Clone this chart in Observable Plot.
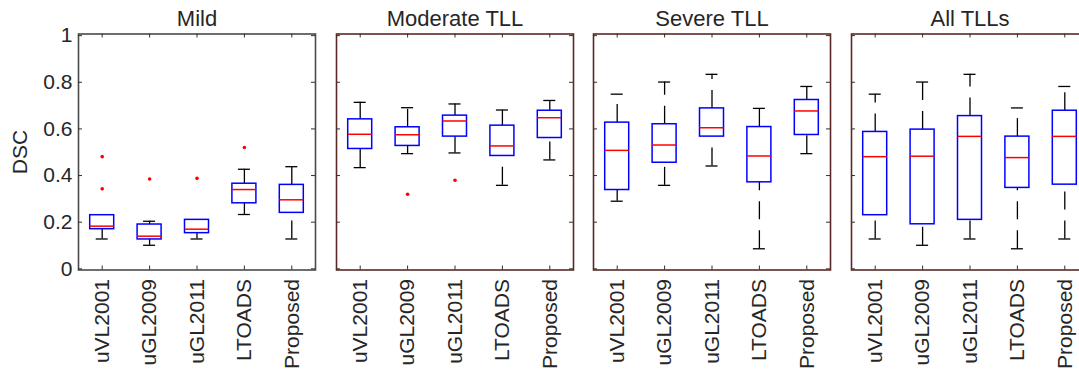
<!DOCTYPE html>
<html>
<head>
<meta charset="utf-8">
<script src="https://cdn.jsdelivr.net/npm/d3@7"></script>
<script src="https://cdn.jsdelivr.net/npm/@observablehq/plot@0.6"></script>
<style>
  html, body { margin: 0; padding: 0; background: #fff; overflow: hidden; }
  #chart { position: relative; width: 1079px; height: 371px; overflow: hidden; }
  #chart svg { position: absolute; top: 0; max-width: none !important; }
</style>
</head>
<body>
<div id="chart"></div>
<script>
const panels = ["Mild", "Moderate TLL", "Severe TLL", "All TLLs"];
const methods = ["uVL2001", "uGL2009", "uGL2011", "LTOADS", "Proposed"];
const yTicks = [0, 0.2, 0.4, 0.6, 0.8, 1];

// per panel, per method (order of methods)
const lowerWhisker = [
  [0.128, 0.101, 0.128, 0.233, 0.128],
  [0.434, 0.494, 0.497, 0.358, 0.467],
  [0.290, 0.358, 0.441, 0.086, 0.494],
  [0.128, 0.101, 0.128, 0.086, 0.128]
];
const q1 = [
  [0.170, 0.126, 0.153, 0.281, 0.240],
  [0.514, 0.527, 0.567, 0.484, 0.561],
  [0.338, 0.455, 0.567, 0.371, 0.574],
  [0.230, 0.191, 0.210, 0.347, 0.361]
];
const median = [
  [0.183, 0.140, 0.170, 0.340, 0.296],
  [0.577, 0.575, 0.634, 0.527, 0.648],
  [0.508, 0.531, 0.605, 0.484, 0.677],
  [0.481, 0.483, 0.568, 0.477, 0.568]
];
const q3 = [
  [0.230, 0.190, 0.210, 0.365, 0.360],
  [0.641, 0.607, 0.657, 0.614, 0.678],
  [0.627, 0.620, 0.688, 0.608, 0.724],
  [0.587, 0.597, 0.655, 0.567, 0.678]
];
const upperWhisker = [
  [0.230, 0.204, 0.210, 0.427, 0.438],
  [0.714, 0.691, 0.707, 0.681, 0.722],
  [0.749, 0.801, 0.834, 0.688, 0.782],
  [0.749, 0.801, 0.834, 0.690, 0.782]
];
const outlierPanel  = ["Mild", "Mild", "Mild", "Mild", "Mild", "Moderate TLL", "Moderate TLL"];
const outlierMethod = ["uVL2001", "uVL2001", "uGL2009", "uGL2011", "LTOADS", "uGL2009", "uGL2011"];
const outlierValue  = [0.481, 0.343, 0.385, 0.388, 0.520, 0.320, 0.380];

// layout
const frameLeft = [78, 335.7, 593.3, 851];
const frameW = 237;
const height = 371, mT = 33.5, mB = 101.5;
const innerH = height - mT - mB;
const band = frameW / methods.length;
const boxInset = (band - 24) / 2;
const capInset = (band - 12) / 2;
const yDomain = [-0.005, 1.007];
const tickCol = "#303030";
const textCol = "#262626";
const font = "'Liberation Sans', Arial, Helvetica, sans-serif";

const container = document.getElementById("chart");

panels.forEach((p, i) => {
  const rows = methods.map((m, j) => ({
    method: m, lo: lowerWhisker[i][j], q1: q1[i][j], med: median[i][j], q3: q3[i][j], hi: upperWhisker[i][j]
  }));
  const whiskers = [];
  rows.forEach(r => {
    whiskers.push({method: r.method, a: r.lo, b: r.q1});
    whiskers.push({method: r.method, a: r.q3, b: r.hi});
  });
  const outliers = outlierValue.map((v, k) => ({panel: outlierPanel[k], method: outlierMethod[k], value: v}))
    .filter(d => d.panel === p);
  const first = i === 0;
  const mL = first ? 78 : 3, mR = 3;
  const frameStroke = first ? "#4a4a4a" : "#5c2828";

  const chart = Plot.plot({
    width: mL + frameW + mR, height,
    marginLeft: mL, marginRight: mR, marginTop: mT, marginBottom: mB,
    style: {fontSize: "21px", fontFamily: font, color: textCol, background: "transparent", overflow: "visible"},
    x: {domain: methods, padding: 0, round: false, axis: null},
    y: {domain: yDomain, axis: null},
    marks: [
      Plot.frame({stroke: frameStroke, strokeWidth: 1.6}),
      Plot.axisX({tickRotate: -90, tickSize: 0, tickPadding: 9, label: null, fontSize: 21, fill: textCol}),
      first ? Plot.axisY({ticks: yTicks, tickSize: 0, tickPadding: 6, label: null, tickFormat: d => String(d), fontSize: 21, fill: textCol}) : null,
      Plot.tickY(yTicks, {y: d => d, insetRight: frameW - 4, stroke: tickCol}),
      Plot.tickY(yTicks, {y: d => d, insetLeft: frameW - 4, stroke: tickCol}),
      Plot.tickX(methods, {x: d => d, insetBottom: innerH - 4, stroke: tickCol}),
      Plot.tickX(methods, {x: d => d, insetTop: innerH - 4, stroke: tickCol}),
      Plot.ruleX(whiskers, {x: "method", y1: "a", y2: "b", stroke: "black", strokeWidth: 1.3, strokeDasharray: "18,11"}),
      Plot.tickY(rows, {x: "method", y: "lo", stroke: "black", strokeWidth: 1.3, inset: capInset}),
      Plot.tickY(rows, {x: "method", y: "hi", stroke: "black", strokeWidth: 1.3, inset: capInset}),
      Plot.barY(rows, {x: "method", y1: "q1", y2: "q3", fill: "white", stroke: "#0000ff", strokeWidth: 1.5, insetLeft: boxInset, insetRight: boxInset}),
      Plot.tickY(rows, {x: "method", y: "med", stroke: "#ff0000", strokeWidth: 1.5, inset: boxInset}),
      Plot.dot(outliers, {x: "method", y: "value", r: 1.8, fill: "#ff0000", stroke: null}),
      Plot.text([p], {text: d => d, frameAnchor: "top", dy: -8, lineAnchor: "bottom", fontSize: 22, fill: textCol}),
      first ? Plot.text(["DSC"], {text: d => d, frameAnchor: "left", textAnchor: "middle", dx: -58, rotate: -90, fontSize: 21, fill: textCol}) : null
    ]
  });
  chart.style.left = (frameLeft[i] - mL) + "px";
  container.appendChild(chart);
});
</script>
</body>
</html>
